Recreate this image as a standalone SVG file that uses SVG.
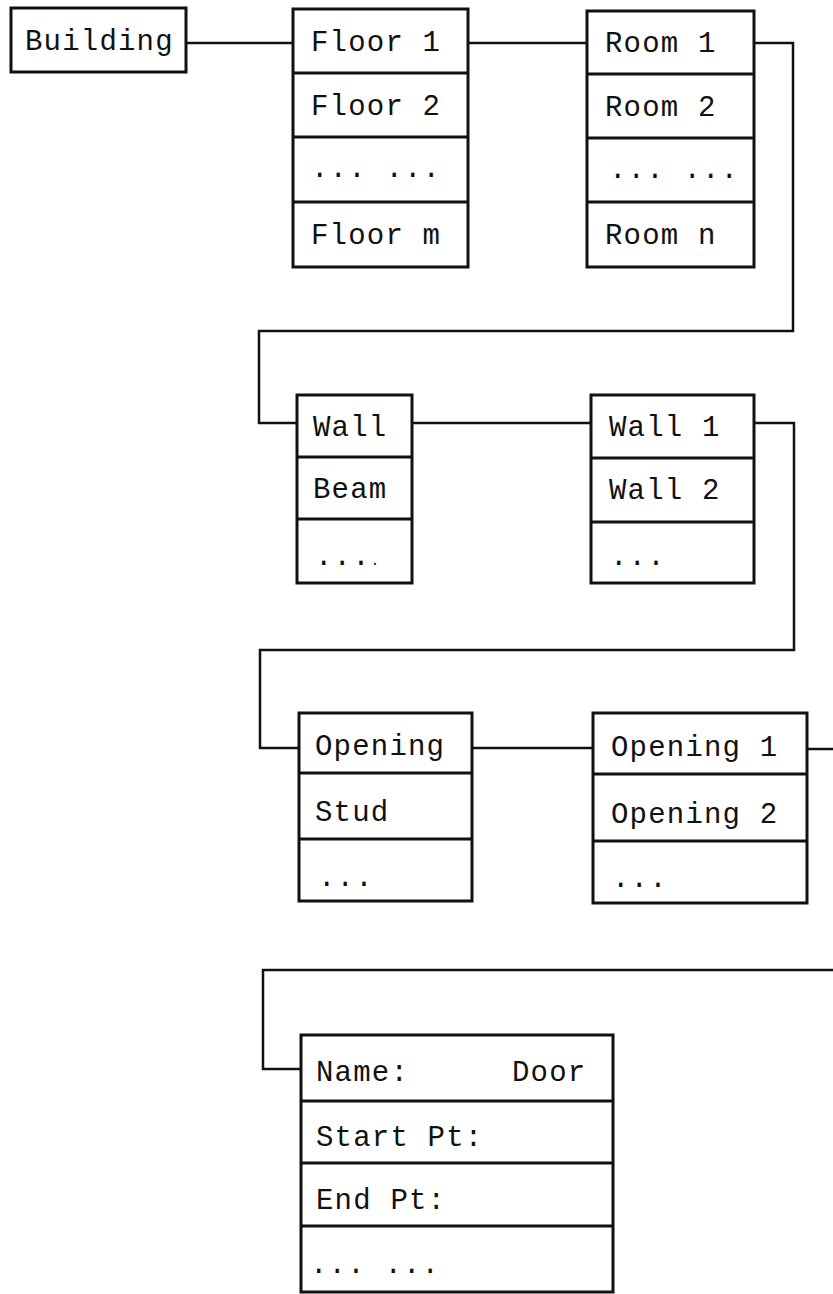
<svg xmlns="http://www.w3.org/2000/svg" width="833" height="1294" viewBox="0 0 833 1294">
<style>
.box{fill:#fff;stroke:#111;stroke-width:3;}
.div{stroke:#111;stroke-width:3;fill:none;}
.con{stroke:#111;stroke-width:2.5;fill:none;stroke-linejoin:miter;}
text{font-family:"Liberation Mono","DejaVu Sans Mono",monospace;font-size:29px;letter-spacing:1.2px;fill:#111;}
</style>
<rect x="0" y="0" width="833" height="1294" fill="#fff"/>
<g id="connectors">
<path class="con" d="M186 43H293"/>
<path class="con" d="M468 43H587"/>
<path class="con" d="M754 43H793V331H259V423H297"/>
<path class="con" d="M412 423H591"/>
<path class="con" d="M754 423H794V650H260V748H299"/>
<path class="con" d="M472 748H593"/>
<path class="con" d="M807 749H833"/>
<path class="con" d="M833 970H263V1069H301"/>
</g>
<g id="building">
<rect class="box" x="11" y="8" width="175" height="64"/>
<text x="25" y="50">Building</text>
</g>
<g id="floors">
<rect class="box" x="293" y="9" width="175" height="258"/>
<path class="div" d="M293 73H468M293 137H468M293 202H468"/>
<text x="311" y="51">Floor 1</text>
<text x="311" y="115">Floor 2</text>
<text x="311" y="177">... ...</text>
<text x="311" y="244">Floor m</text>
</g>
<g id="rooms">
<rect class="box" x="587" y="11" width="167" height="256"/>
<path class="div" d="M587 74H754M587 138H754M587 202H754"/>
<text x="605" y="52">Room 1</text>
<text x="605" y="116">Room 2</text>
<text x="609" y="178">... ...</text>
<text x="605" y="244">Room n</text>
</g>
<g id="elements">
<rect class="box" x="297" y="395" width="115" height="188"/>
<path class="div" d="M297 457H412M297 519H412"/>
<text x="313" y="436">Wall</text>
<text x="313" y="498">Beam</text>
<text x="315" y="565">...<tspan font-size="14">.</tspan></text>
</g>
<g id="walls">
<rect class="box" x="591" y="395" width="163" height="188"/>
<path class="div" d="M591 458H754M591 522H754"/>
<text x="609" y="436">Wall 1</text>
<text x="609" y="499">Wall 2</text>
<text x="610" y="565">...</text>
</g>
<g id="wall-elements">
<rect class="box" x="299" y="713" width="173" height="188"/>
<path class="div" d="M299 773H472M299 839H472"/>
<text x="315" y="755">Opening</text>
<text x="315" y="821">Stud</text>
<text x="318" y="886">...</text>
</g>
<g id="openings">
<rect class="box" x="593" y="713" width="214" height="190"/>
<path class="div" d="M593 774H807M593 841H807"/>
<text x="611" y="756">Opening 1</text>
<text x="611" y="823">Opening 2</text>
<text x="612" y="887">...</text>
</g>
<g id="door">
<rect class="box" x="301" y="1035" width="312" height="257"/>
<path class="div" d="M301 1101H613M301 1163H613M301 1226H613"/>
<text x="316" y="1081">Name:</text>
<text x="512" y="1081">Door</text>
<text x="316" y="1146">Start Pt:</text>
<text x="316" y="1209">End Pt:</text>
<text x="310" y="1273">... ...</text>
</g>
</svg>
